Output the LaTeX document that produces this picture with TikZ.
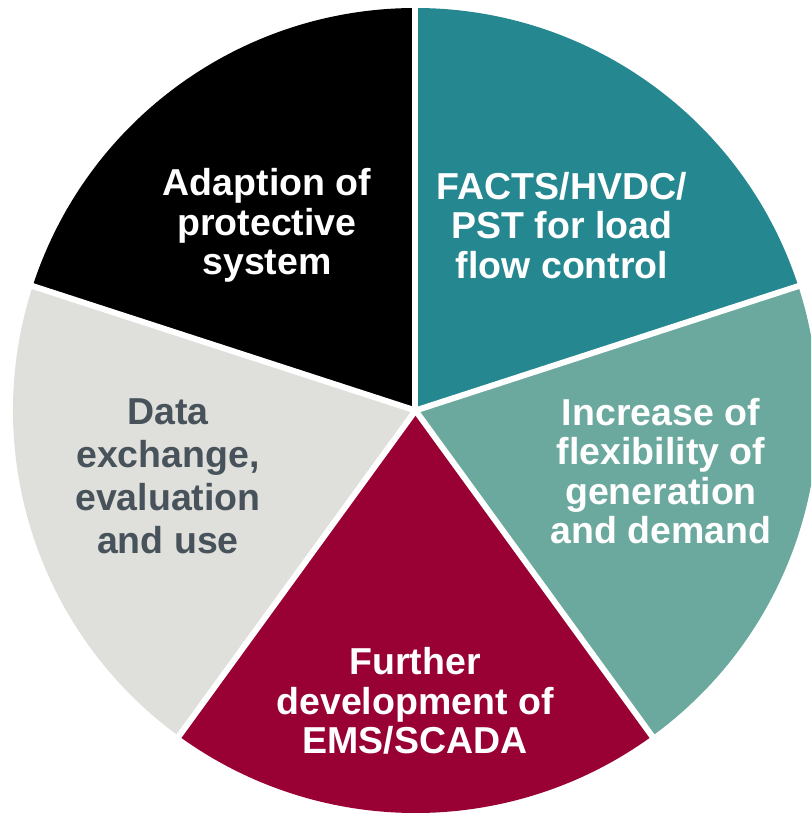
\documentclass[tikz,border=0pt]{standalone}
\usepackage{fontspec}
\setmainfont{Liberation Sans}
\usepackage{tikz}
\usetikzlibrary{calc}
\definecolor{Petrol}{HTML}{25878F}
\definecolor{Sage}{HTML}{6BA99F}
\definecolor{Berry}{HTML}{990033}
\definecolor{Pebble}{HTML}{DFDFDB}
\definecolor{Slate}{HTML}{47525A}

\begin{document}
\begin{tikzpicture}[
    slicetext/.style={align=center, font=\bfseries\fontsize{10.67}{11.2}\selectfont, text=white, inner sep=0pt}
  ]
    \def\r{4.025}
    \useasboundingbox (-4.155,-4.035) rectangle (3.955,4.105);
    \clip (-4.155,-4.035) rectangle (3.955,4.105);
    % the five slices
    \fill[Petrol] (0,0) -- (18:\r) arc[start angle=18, end angle=90, radius=\r] -- cycle;
    \fill[Sage] (0,0) -- (-54:\r) arc[start angle=-54, end angle=18, radius=\r] -- cycle;
    \fill[Berry] (0,0) -- (-126:\r) arc[start angle=-126, end angle=-54, radius=\r] -- cycle;
    \fill[Pebble] (0,0) -- (162:\r) arc[start angle=162, end angle=234, radius=\r] -- cycle;
    \fill[black] (0,0) -- (90:\r) arc[start angle=90, end angle=162, radius=\r] -- cycle;
    % white gaps between the slices
    \foreach \a in {90,18,-54,-126,162}
      \draw[white, line width=0.06cm] (0,0) -- (\a:4.3);
    \node[slicetext] (protect) at (-1.485,1.85) {Adaption of\\protective\\system};
    \node[slicetext] (facts) at (1.465,1.85) {FACTS/HVDC/\\PST for load\\flow control};
    \node[slicetext] (flex) at (2.455,-0.605) {Increase of\\flexibility of\\generation\\and demand};
    \node[slicetext] (ems) at (-0.005,-2.905) {Further\\development of\\EMS/SCADA};
    \node[slicetext, text=Slate, font=\bfseries\fontsize{10.67}{12.2}\selectfont] (data) at (-2.475,-0.655) {Data\\exchange,\\evaluation\\and use};
  \end{tikzpicture}
\end{document}
